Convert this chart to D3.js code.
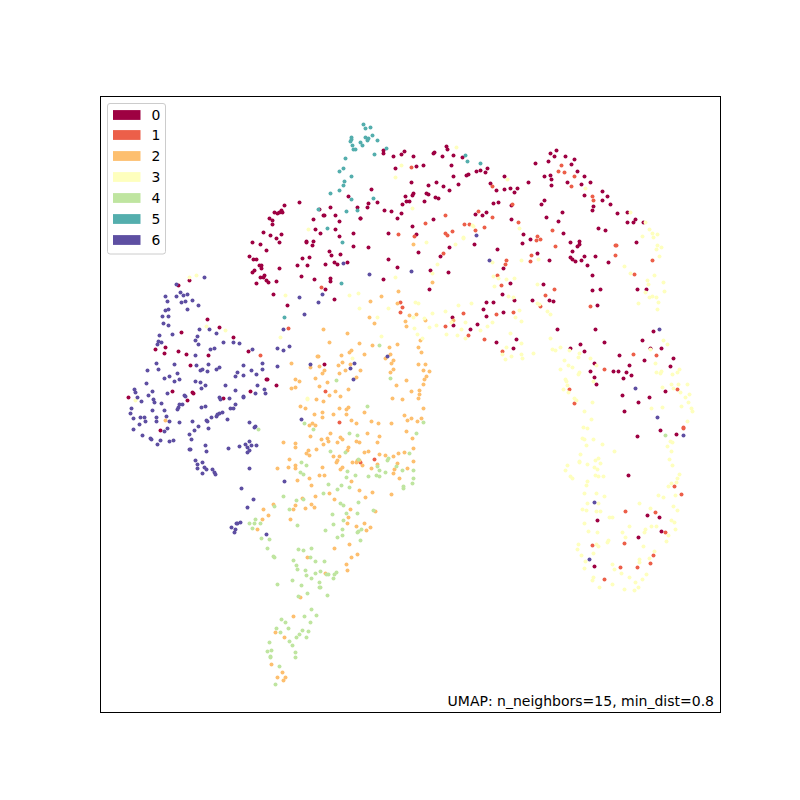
<!DOCTYPE html>
<html><head><meta charset="utf-8">
<script src="https://cdn.jsdelivr.net/npm/d3@7"></script>
<style>html,body{margin:0;padding:0;background:#fff}svg{display:block}text{font-family:"DejaVu Sans",sans-serif;fill:#000}</style>
</head><body><svg id="c" width="800" height="800"></svg>
<script>
const categories = ["0","1","2","3","4","5","6"];
const palette = ["#9e0142","#ec5f49","#fdbf6f","#feffbe","#bfe5a0","#54aead","#5e4fa2"];
const annotation = "UMAP: n_neighbors=15, min_dist=0.8";
const series0 = [[284,205],[299,202],[274,212],[277,213],[281,210],[282,212],[279,212],[269,218],[272,220],[272,224],[263,232],[270,235],[281,234],[276,238],[279,242],[252,242],[260,244],[266,250],[249,256],[253,259],[256,259],[259,265],[261,265],[261,268],[254,270],[252,272],[279,268],[264,275],[260,277],[263,277],[266,280],[268,282],[256,283],[276,281],[273,294],[287,305],[319,209],[330,207],[323,215],[324,215],[335,215],[339,221],[313,219],[315,229],[320,233],[335,229],[339,236],[353,233],[353,246],[306,241],[306,242],[313,241],[312,245],[329,251],[331,255],[340,254],[302,258],[309,257],[297,265],[307,265],[325,264],[334,262],[337,264],[347,262],[301,276],[314,279],[330,278],[330,281],[325,289],[334,299],[348,196],[357,207],[360,218],[189,280],[178,285],[207,319],[219,327],[181,332],[233,337],[165,347],[155,349],[164,353],[178,351],[186,354],[208,355],[248,351],
[446,146],[447,149],[383,150],[383,153],[393,156],[401,154],[404,151],[413,156],[433,153],[434,152],[442,156],[453,155],[462,157],[451,165],[395,168],[416,166],[423,165],[487,168],[480,170],[476,171],[485,172],[468,174],[466,175],[453,176],[504,176],[411,182],[436,182],[428,185],[443,186],[458,184],[449,190],[371,189],[490,183],[496,190],[504,189],[510,188],[517,188],[514,192],[528,182],[413,193],[412,195],[426,193],[428,194],[435,197],[438,198],[405,196],[406,201],[409,201],[402,204],[424,201],[368,203],[367,207],[377,202],[384,210],[391,211],[401,213],[397,218],[360,218],[433,219],[412,226],[388,233],[416,234],[498,202],[493,203],[511,205],[475,214],[482,215],[486,212],[511,219],[474,244],[449,247],[440,256],[418,252],[368,247],[388,259],[397,267],[430,270],[448,272],[383,279],[429,289],[497,249],[503,268],[510,283],[502,294],[514,300],[493,302],[486,302],[483,309],[486,316],[503,312],[452,317],[453,325],[477,324],[470,329],[496,342],[516,339],[513,348],[523,234],[530,239],[522,243],[537,253],[549,260],[543,284],[532,300],[549,300],[553,301],[557,329],[535,163],[550,153],[556,150],[554,156],[548,161],[565,156],[574,159],[571,164],[577,171],[544,176],[550,175],[551,179],[551,185],[567,182],[584,176],[581,184],[590,182],[544,200],[541,204],[602,191],[607,196],[584,195],[602,200],[610,204],[593,206],[592,210],[562,212],[546,217],[558,221],[617,213],[627,212],[627,222],[633,222],[635,219],[643,222],[598,228],[605,230],[563,233],[636,242],[570,242],[579,241],[579,244],[577,246],[572,251],[570,257],[572,259],[575,261],[581,260],[584,256],[595,256],[608,262],[587,265],[592,275],[592,290],[600,289],[597,305],[637,289],[646,289],[595,329],[653,331],
[190,365],[266,379],[267,379],[276,385],[250,391],[172,391],[192,392],[193,393],[128,397],[187,400],[223,398],[160,430],[324,364],
[570,348],[580,344],[604,342],[642,340],[584,351],[650,348],[661,348],[619,355],[644,360],[673,358],[594,363],[629,365],[670,366],[590,371],[613,371],[618,371],[626,372],[631,375],[594,377],[623,378],[596,384],[665,391],[622,395],[649,397],[638,402],[624,411],[660,430],[676,434],[637,436],[628,475],[647,515],[659,517],[597,520],[661,531],[638,537],[594,566]];
const series1 = [[321,287],[288,328],[260,355],[411,167],[561,165],[558,171],[564,172],[574,176],[571,186],[592,196],[593,200],[492,186],[512,204],[478,211],[492,217],[445,215],[425,223],[464,224],[469,224],[518,222],[484,227],[475,230],[452,231],[445,233],[447,235],[398,234],[414,236],[537,236],[540,239],[536,240],[552,230],[555,246],[615,245],[616,245],[615,255],[531,255],[530,261],[443,253],[506,260],[505,264],[652,260],[634,274],[497,275],[501,285],[554,289],[545,295],[400,302],[402,307],[400,312],[540,306],[590,306],[513,312],[496,314],[463,313],[445,326],[468,335],[484,339],[502,351],[325,391],[339,422],[360,462],[374,459],[633,354],[656,355],[604,369],[677,389],[569,389],[574,403],[683,427],[683,428],[674,486],[681,494],[625,511],[655,512],[665,532],[624,543],[592,545],[653,555],[650,563],[620,567],[637,567],[604,579]];
const series2 = [[413,244],[432,282],[398,291],[381,296],[370,301],[397,303],[409,315],[416,314],[369,317],[453,320],[165,420],[277,468],[273,504],[263,509],[268,515],[262,519],[257,529],[374,323],[405,321],[406,326],[323,329],[347,333],[329,342],[359,343],[372,345],[397,344],[389,347],[418,347],[420,340],[425,320],[421,352],[351,350],[349,352],[364,354],[341,355],[318,356],[317,356],[390,354],[393,360],[385,358],[291,363],[319,366],[310,367],[324,370],[322,373],[342,362],[338,365],[350,364],[345,370],[360,370],[339,373],[356,377],[315,378],[295,379],[299,381],[327,382],[319,386],[295,387],[291,388],[348,389],[335,391],[329,395],[340,396],[316,399],[323,401],[391,363],[393,369],[390,372],[418,364],[425,364],[423,370],[429,371],[426,376],[424,379],[423,384],[406,380],[396,385],[419,390],[411,391],[419,394],[418,398],[392,398],[402,399],[423,408],[300,406],[305,408],[339,408],[346,409],[348,407],[322,412],[314,414],[364,412],[346,414],[333,414],[322,417],[351,420],[356,423],[371,421],[378,423],[391,423],[404,415],[407,420],[411,418],[417,421],[421,418],[312,423],[309,425],[315,425],[367,433],[379,436],[406,431],[412,438],[330,433],[310,436],[340,437],[342,439],[321,439],[327,438],[328,441],[337,442],[356,441],[359,442],[377,442],[323,444],[283,442],[295,443],[295,447],[316,449],[308,450],[306,453],[309,455],[348,447],[347,450],[364,452],[368,451],[379,454],[385,455],[393,456],[398,453],[404,452],[413,448],[333,456],[339,456],[337,460],[336,462],[289,459],[352,462],[356,462],[357,460],[359,460],[362,465],[377,464],[397,463],[295,465],[295,468],[288,467],[322,467],[342,467],[340,469],[371,468],[394,469],[407,468],[413,461],[393,473],[399,478],[319,475],[324,475],[309,478],[297,480],[311,485],[351,481],[359,490],[372,492],[391,494],[315,496],[329,493],[365,497],[334,499],[302,498],[295,505],[293,509],[311,504],[305,508],[314,507],[290,519],[350,509],[348,517],[347,523],[356,526],[364,523],[370,527],[366,530],[375,511],[349,544],[334,548],[357,554],[351,557],[307,557],[346,564],[347,570],[325,573],[300,597],[293,616],[275,632],[284,637],[271,664],[282,672],[285,677],[277,677],[283,680]];
const series3 = [[189,277],[196,275],[308,229],[285,295],[349,295],[358,293],[359,308],[206,326],[225,330],[280,337],[456,147],[401,165],[395,177],[507,179],[585,188],[412,208],[630,212],[645,222],[472,225],[473,226],[649,229],[652,233],[657,234],[642,236],[653,237],[463,237],[463,238],[519,228],[426,242],[455,244],[657,245],[661,247],[656,249],[659,256],[437,264],[492,262],[521,260],[538,259],[624,266],[630,273],[654,275],[432,273],[395,277],[493,276],[498,278],[506,279],[514,278],[494,286],[537,284],[647,280],[648,284],[663,282],[645,292],[664,291],[508,296],[513,297],[656,297],[652,296],[649,297],[658,302],[638,303],[657,309],[537,303],[539,304],[415,302],[418,303],[388,308],[458,305],[471,303],[432,313],[445,311],[519,310],[547,311],[550,314],[515,317],[521,321],[377,317],[413,317],[424,318],[465,322],[451,322],[492,322],[487,326],[414,328],[429,327],[436,325],[461,329],[480,330],[417,334],[446,334],[457,335],[465,338],[510,333],[381,336],[422,338],[521,343],[550,338],[506,347],[533,353],[521,354],[522,358],[511,356],[502,354],[505,359],[135,400],[307,398],[352,358],[307,399],
[552,349],[555,350],[560,347],[569,350],[579,353],[578,357],[590,358],[564,360],[568,365],[572,367],[560,369],[596,365],[579,372],[578,374],[565,379],[566,381],[567,385],[593,381],[563,389],[568,392],[574,398],[576,400],[592,402],[584,411],[591,419],[583,427],[587,428],[582,438],[584,439],[593,439],[602,444],[586,445],[614,451],[580,454],[579,461],[579,462],[595,460],[598,458],[600,463],[587,464],[594,467],[597,469],[567,465],[565,470],[570,476],[572,478],[595,475],[598,476],[603,476],[587,481],[586,485],[584,493],[596,493],[604,496],[587,503],[598,503],[582,509],[586,510],[596,511],[600,511],[609,517],[612,517],[584,523],[588,531],[597,532],[578,544],[577,549],[596,544],[598,546],[607,542],[608,540],[581,555],[593,553],[585,561],[584,568],[612,564],[614,569],[621,573],[593,577],[592,580],[612,584],[599,587],[624,589],[629,577],[635,582],[638,587],[634,590],[642,579],[646,574],[639,559],[639,562],[649,558],[654,551],[643,546],[625,537],[622,532],[629,526],[645,529],[644,532],[651,526],[656,526],[668,535],[666,541],[675,529],[671,520],[674,522],[677,510],[673,506],[650,508],[639,503],[658,495],[663,497],[675,495],[668,486],[671,483],[676,482],[677,478],[679,474],[672,465],[669,459],[671,451],[667,446],[670,441],[672,442],[687,421],[691,408],[692,411],[688,402],[681,406],[662,407],[651,408],[685,397],[689,394],[680,392],[673,388],[662,387],[671,384],[678,384],[687,384],[672,374],[677,372],[679,369],[660,373],[661,371],[656,372],[655,363],[650,349],[663,340],[667,344]];
const series4 = [[258,429],[249,523],[254,523],[255,519],[260,523],[252,528],[261,538],[269,539],[274,506],[379,345],[336,380],[390,378],[367,406],[304,423],[313,429],[423,422],[349,433],[357,435],[416,433],[330,451],[345,452],[409,453],[301,462],[306,465],[358,459],[388,458],[387,460],[377,466],[379,470],[396,466],[402,470],[413,470],[347,471],[346,477],[355,475],[368,476],[376,475],[379,476],[385,472],[300,472],[303,474],[413,478],[412,483],[403,486],[403,488],[328,484],[341,485],[337,489],[349,487],[323,493],[283,496],[296,500],[303,499],[267,548],[273,556],[274,557],[289,509],[297,525],[340,503],[343,505],[358,502],[332,514],[346,513],[357,513],[373,510],[343,520],[333,524],[342,529],[325,530],[361,529],[358,531],[357,532],[342,535],[337,537],[360,540],[298,549],[303,550],[311,548],[310,557],[315,561],[324,561],[293,560],[296,565],[297,569],[305,570],[306,575],[315,573],[320,571],[328,574],[326,574],[334,574],[336,572],[333,578],[311,578],[292,580],[319,582],[319,587],[320,587],[301,585],[277,584],[307,593],[327,595],[298,596],[311,609],[316,615],[304,616],[310,622],[281,619],[285,622],[276,628],[288,628],[280,632],[302,630],[308,631],[299,634],[296,637],[306,637],[269,642],[289,641],[292,645],[271,650],[267,651],[295,652],[270,656],[270,657],[295,657],[279,666],[275,684],[665,435]];
const series5 = [[351,137],[351,139],[350,141],[352,145],[353,149],[355,149],[360,142],[345,158],[343,168],[339,171],[351,176],[344,181],[343,185],[339,190],[330,193],[351,199],[318,209],[346,211],[357,210],[327,228],[342,242],[341,283],[284,317],[363,124],[370,127],[365,128],[372,135],[365,137],[367,140],[368,138],[362,145],[377,140],[386,148],[374,154],[465,155],[467,161],[480,163],[373,198]];
const series6 = [[204,277],[176,284],[180,292],[183,295],[187,294],[176,296],[165,296],[167,301],[181,302],[185,301],[192,300],[198,305],[187,309],[168,309],[165,310],[162,316],[168,316],[163,323],[168,325],[199,329],[209,329],[216,333],[172,334],[159,335],[197,336],[195,340],[198,344],[158,341],[161,342],[157,344],[223,342],[233,342],[239,343],[214,348],[210,349],[252,349],[277,348],[283,350],[289,346],[195,355],[283,329],[304,314],[318,302],[322,294],[299,297],[343,263],[476,235],[489,260],[369,274],[411,271],[659,329],[387,356],
[156,363],[174,364],[147,370],[158,369],[196,365],[208,364],[202,369],[200,370],[207,371],[219,367],[216,369],[243,365],[262,363],[262,369],[251,370],[237,372],[235,376],[243,375],[256,374],[277,366],[177,373],[169,376],[164,378],[179,379],[174,381],[195,381],[200,382],[205,385],[201,388],[146,383],[225,385],[257,385],[264,389],[265,393],[235,390],[255,393],[134,389],[135,392],[152,391],[167,393],[148,395],[184,395],[185,396],[137,397],[141,401],[153,399],[154,402],[161,403],[182,404],[179,404],[178,407],[177,409],[219,397],[220,399],[229,398],[243,396],[243,397],[235,404],[233,408],[230,408],[201,407],[205,406],[131,408],[130,413],[152,410],[164,410],[133,418],[140,417],[144,417],[156,417],[166,416],[156,421],[145,421],[169,421],[139,424],[179,422],[192,421],[222,412],[219,413],[217,414],[216,416],[211,417],[206,420],[207,421],[227,419],[249,422],[198,426],[208,428],[194,430],[167,428],[164,431],[133,429],[142,435],[150,438],[151,439],[160,440],[169,441],[173,440],[157,444],[189,434],[191,439],[205,445],[190,449],[189,449],[206,451],[228,448],[239,446],[245,444],[247,447],[249,441],[251,445],[256,445],[247,452],[249,450],[254,427],[255,426],[195,460],[197,464],[202,462],[197,468],[204,467],[206,469],[212,469],[202,473],[214,472],[215,474],[249,468],[241,488],[253,499],[247,507],[237,523],[240,522],[236,523],[231,527],[235,529],[234,532],[266,534],[284,481],[301,419],[354,363],[350,368],[353,379],[310,364],[635,388],[657,417],[683,435],[594,502],[589,559]];
const allSeries = [series0,series1,series2,series3,series4,series5,series6];

const W=800,H=800,L=100.5,R=720.5,T=96.5,B=712.5;
const x=d3.scaleLinear().domain([100,720]).range([L,R]);
const y=d3.scaleLinear().domain([96,712]).range([T,B]);
const color=d3.scaleOrdinal(categories,palette);
const svg=d3.select("#c");
svg.append("rect").attr("width",W).attr("height",H).attr("fill","#fff");
const flat=allSeries.flatMap((s,i)=>s.map(p=>({c:categories[i],p})));
svg.append("g").selectAll("circle").data(flat).join("circle")
 .attr("cx",d=>x(d.p[0])).attr("cy",d=>y(d.p[1])).attr("r",2).attr("fill",d=>color(d.c));
svg.append("rect").attr("x",L).attr("y",T).attr("width",R-L).attr("height",B-T).attr("fill","none").attr("stroke","#000").attr("stroke-width",1);
const rowY=d3.scalePoint().domain(categories).range([115,240]);
const lg=svg.append("g");
lg.append("rect").attr("x",107.5).attr("y",103.5).attr("width",58).attr("height",150.5).attr("rx",2.5).attr("fill","#fff").attr("fill-opacity",.8).attr("stroke","#ccc").attr("stroke-width",1);
const row=lg.selectAll("g").data(categories).join("g").attr("transform",d=>`translate(0,${Math.round(rowY(d)-.4)})`);
row.append("rect").attr("x",113).attr("y",-4.9).attr("width",27.5).attr("height",9.8).attr("fill",d=>color(d));
row.append("text").attr("x",151.5).attr("y",5).attr("font-size",13.9).text(d=>d);
svg.append("text").attr("x",714).attr("y",706).attr("text-anchor","end").attr("font-size",14).text(annotation);
</script></body></html>
